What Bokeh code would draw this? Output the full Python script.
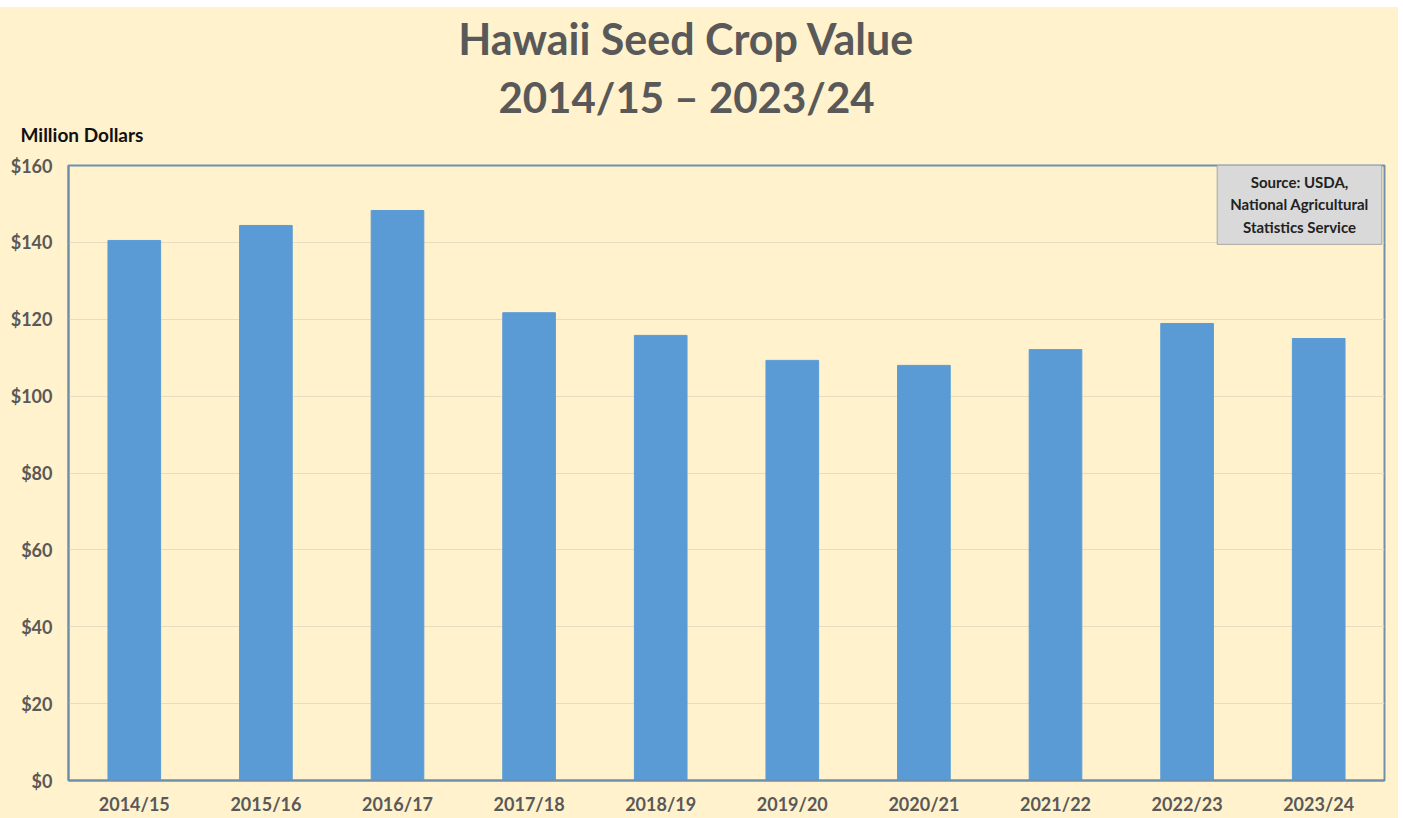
from bokeh.plotting import figure
from bokeh.models import FixedTicker, NumeralTickFormatter, Label, Spacer, Title
from bokeh.layouts import column
from bokeh.embed import file_html
from bokeh.resources import INLINE

seasons = ["2014/15", "2015/16", "2016/17", "2017/18", "2018/19",
           "2019/20", "2020/21", "2021/22", "2022/23", "2023/24"]
values = [140.5, 144.4, 148.3, 121.7, 115.8, 109.3, 108.0, 112.1, 118.9, 115.0]
y_ticks = [0, 20, 40, 60, 80, 100, 120, 140, 160]

BG = "#FFF2CC"
BAR = "#5B9BD5"
GRAY = "#595959"
FONT = "Lato"
W = 1398

# ---- header (titles) ----
h = figure(width=W, height=143, x_range=(0, 1), y_range=(0, 1),
           x_axis_type=None, y_axis_type=None,
           output_backend="svg", toolbar_location=None,
           min_border_left=68, min_border_right=14,
           min_border_top=0, min_border_bottom=0)
h.background_fill_color = BG
h.border_fill_color = BG
h.outline_line_color = None
h.xgrid.visible = False
h.ygrid.visible = False

h.add_layout(Label(x=618, y=79, x_units="screen", y_units="screen",
                   text="Hawaii Seed Crop Value", text_align="center",
                   text_baseline="middle", text_font=FONT,
                   text_font_style="bold", text_font_size="43px",
                   text_color=GRAY))
h.add_layout(Label(x=618, y=21, x_units="screen", y_units="screen",
                   text="2014/15 \u2013 2023/24", text_align="center",
                   text_baseline="middle", text_font=FONT,
                   text_font_style="bold", text_font_size="42px",
                   text_color=GRAY))
h.add_layout(Title(text="Million Dollars", align="left", offset=-48,
                   vertical_align="middle", standoff=8,
                   text_font=FONT, text_font_style="bold",
                   text_font_size="19px", text_color="#111111"), "below")

# ---- main chart ----
p = figure(width=W, height=668, x_range=seasons, y_range=(0, 160),
           output_backend="svg", toolbar_location=None,
           min_border_left=68, min_border_right=14,
           min_border_top=15, min_border_bottom=38)
p.background_fill_color = BG
p.border_fill_color = BG
p.outline_line_color = "#6F8FAD"
p.outline_line_width = 2

p.vbar(x=seasons, top=values, width=0.4, color=BAR)

p.xgrid.grid_line_color = None
p.ygrid.grid_line_color = "#E6DCC0"
p.ygrid.grid_line_width = 1
p.yaxis.ticker = FixedTicker(ticks=y_ticks)
p.yaxis.formatter = NumeralTickFormatter(format="$0")

for ax in (p.xaxis, p.yaxis):
    ax.axis_line_color = "#6F8FAD"
    ax.axis_line_width = 2
    ax.major_tick_line_color = None
    ax.minor_tick_line_color = None
    ax.major_tick_out = 0
    ax.major_label_text_font = FONT
    ax.major_label_text_font_style = "bold"
    ax.major_label_text_color = GRAY
    ax.major_label_text_font_size = "18px"
p.yaxis.major_label_standoff = 16
p.xaxis.major_label_standoff = 12

p.add_layout(Label(x=1231, y=576, x_units="screen", y_units="screen",
                   text="Source: USDA,\nNational Agricultural\nStatistics Service",
                   text_align="center", text_baseline="middle",
                   text_font=FONT, text_font_style="bold",
                   text_font_size="15px", text_color="#222222",
                   text_line_height=1.27,
                   background_fill_color="#D9D9D9",
                   border_line_color="#A6A6A6", border_line_width=1,
                   padding=dict(left=13, right=13, top=8, bottom=8)))

layout = column(Spacer(width=W, height=7, styles={"background-color": "white"}),
                h, p, styles={"background-color": BG})
open("out.html", "w").write(file_html(layout, INLINE))
